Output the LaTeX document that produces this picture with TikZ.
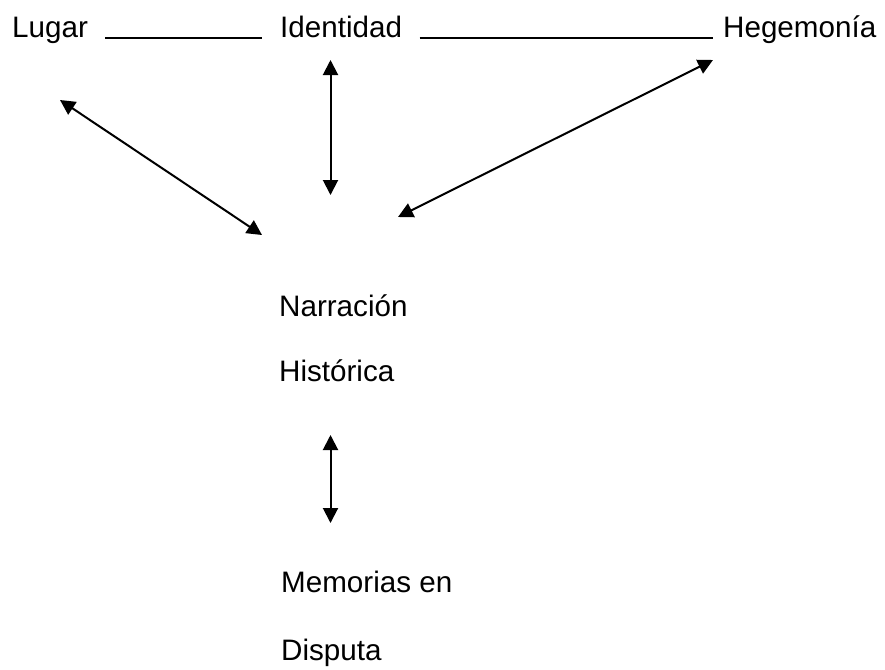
\documentclass[tikz,border=0pt]{standalone}
\usepackage{fontspec}
\setmainfont{Liberation Sans}
\usetikzlibrary{arrows.meta}
\begin{document}
\begin{tikzpicture}[x=1pt,y=-1pt,
  lbl/.style={anchor=base west,inner sep=0pt,font=\fontsize{29.6}{35}\selectfont},
  rule/.style={line width=2pt},
  dbl/.style={line width=2pt,{Triangle[length=15pt,width=15pt]}-{Triangle[length=15pt,width=15pt]}}]
\useasboundingbox (0,0) rectangle (885,669);
\node[lbl] (lugar) at (12,37.5) {Lugar};
\node[lbl] (ident) at (280,37.5) {Identidad};
\node[lbl] (hege) at (723,37.5) {Hegemonía};
\node[lbl] (narr) at (279,316) {Narración};
\node[lbl] (hist) at (279,381.5) {Histórica};
\node[lbl] (mem) at (281,592) {Memorias en};
\node[lbl] (disp) at (281,660) {Disputa};
\draw[rule] ([xshift=17pt,yshift=-0.5pt]lugar.base east) -- ([xshift=-18pt,yshift=-0.5pt]ident.base west);
\draw[rule] ([xshift=17.5pt,yshift=-0.5pt]ident.base east) -- ([xshift=-10pt,yshift=-0.5pt]hege.base west);
\coordinate (a1) at (60,100);
\coordinate (a2) at (262,235);
\coordinate (b1) at (330.5,60);
\coordinate (b2) at (330.5,195);
\coordinate (c1) at (713,60);
\coordinate (c2) at (398,217);
\coordinate (d1) at (330.5,435);
\coordinate (d2) at (330.5,523);
\draw[dbl] (a1) -- (a2);
\draw[dbl] (b1) -- (b2);
\draw[dbl] (c1) -- (c2);
\draw[dbl] (d1) -- (d2);
\end{tikzpicture}
\end{document}
